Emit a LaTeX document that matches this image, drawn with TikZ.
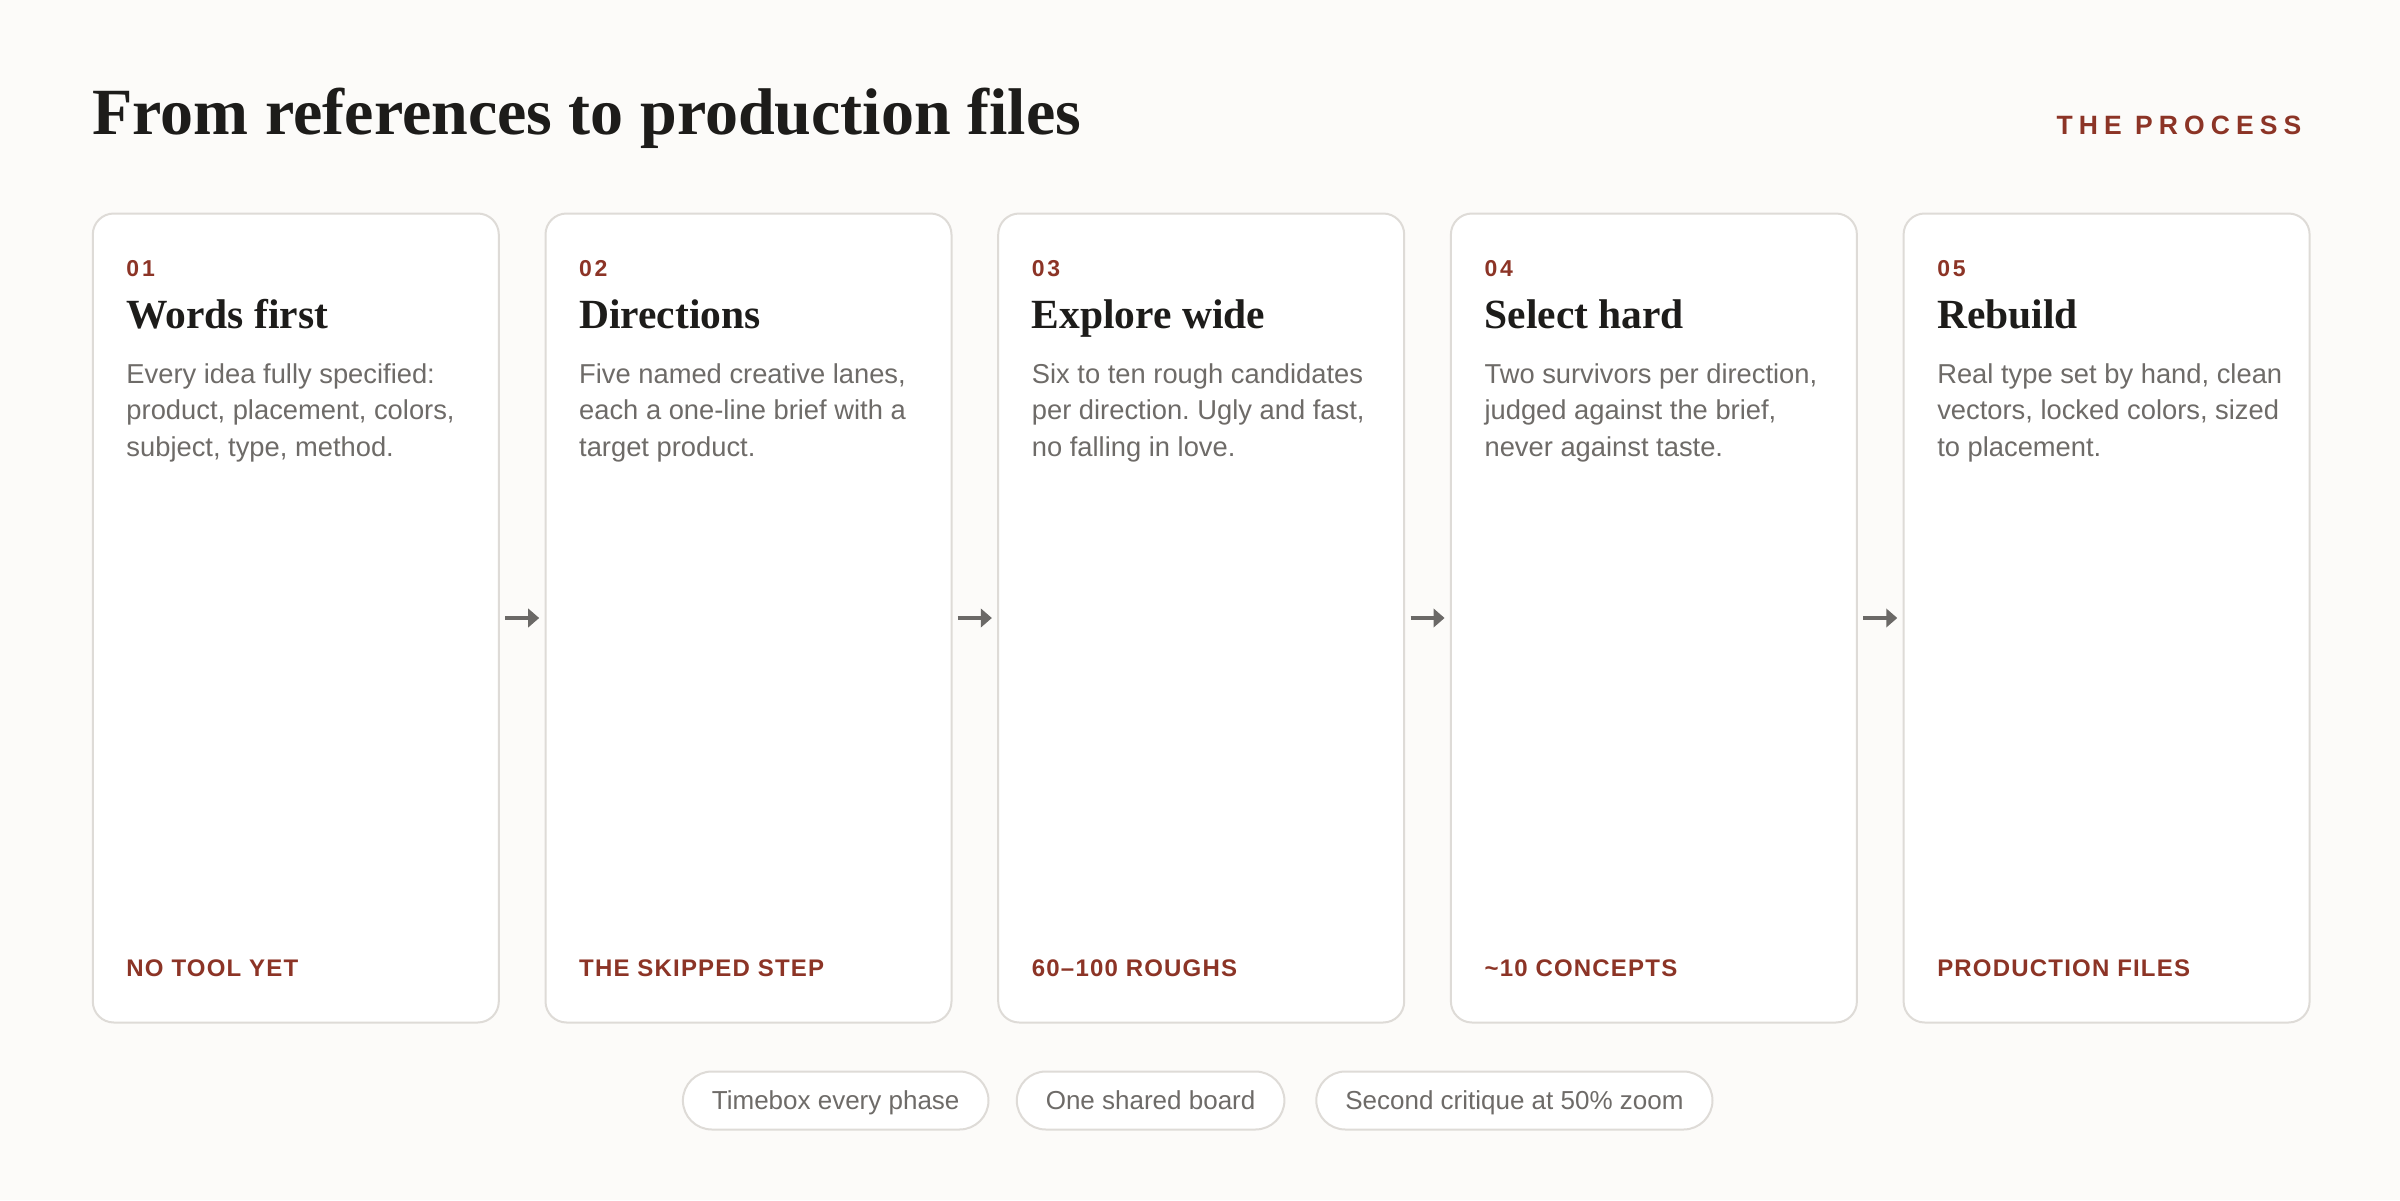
\documentclass[tikz,border=0pt]{standalone}
\usepackage{fontspec}
\setmainfont{Liberation Serif}
\setsansfont{Liberation Sans}
\newfontfamily\trackN{Liberation Sans}[LetterSpace=12]
\newfontfamily\trackH{Liberation Sans}[LetterSpace=23]
\newfontfamily\trackL{Liberation Sans}[LetterSpace=5]
\usetikzlibrary{arrows.meta,positioning}
\definecolor{bg}{HTML}{FCFBF9}
\definecolor{accent}{HTML}{8C3426}
\definecolor{ink}{HTML}{1D1C1A}
\definecolor{muted}{HTML}{6E6B68}
\definecolor{rulec}{HTML}{DEDBD7}
\definecolor{arrowc}{HTML}{6B6967}
\newcommand\stagecard[9]{%
  \node[card] (c#1) at (#2,212.5) {};
  \node[num] (n#1) at (#2+34,276.7) {#3};
  \node[ctitle] (t#1) at (#2+34,328.3) {#4};
  \node[body] (ba#1) at (#2+34,383.3) {#5};
  \node[body] (bb#1) at (#2+34,419.9) {#6};
  \node[body] (bc#1) at (#2+34,456.5) {#7};
  \node[foot] (f#1) at (#2+34,976) {#8};
}
\begin{document}
\frenchspacing
\begin{tikzpicture}[x=0.3pt,y=-0.3pt,
  card/.style={draw=rulec, line width=0.6pt, fill=white, rounded corners=6.3pt,
    minimum width=121.8pt, minimum height=242.7pt, inner sep=0pt, anchor=north west},
  txt/.style={inner sep=0pt, anchor=base west},
  num/.style={txt, text=accent, font=\trackN\bfseries\fontsize{6.9}{8}\selectfont},
  ctitle/.style={txt, text=ink, font=\bfseries\fontsize{12.45}{15}\selectfont},
  body/.style={txt, text=muted, font=\sffamily\fontsize{8.2}{10}\selectfont},
  foot/.style={txt, text=accent, font=\trackL\bfseries\fontsize{7.2}{8}\selectfont},
  arr/.style={draw=arrowc, line width=1.2pt, -{Triangle[length=3.3pt,width=5.5pt]},
    shorten <=1.6pt, shorten >=1.6pt},
  pill/.style={draw=rulec, line width=0.6pt, fill=white, rounded corners=8.7pt,
    minimum height=17.4pt, inner xsep=8.7pt, inner ysep=0pt, text height=5.6pt,
    text depth=0pt, text=muted, font=\sffamily\fontsize{7.8}{9}\selectfont}
]
\useasboundingbox (0,0) rectangle (2400,1200);
\fill[bg] (0,0) rectangle (2400,1200);

\node[txt, text=ink, font=\bfseries\fontsize{19.8}{24}\selectfont] (title) at (91.8,134.3)
  {From references to production files};
\node[inner sep=0pt, anchor=base east, text=accent, font=\trackH\bfseries\fontsize{7.95}{9}\selectfont]
  (kicker) at (2302,134) {THE PROCESS};

\stagecard{1}{91.8}{01}{Words first}{Every idea fully specified:}{product, placement, colors,}{subject, type, method.}{NO TOOL YET}{}
\stagecard{2}{544.5}{02}{Directions}{Five named creative lanes,}{each a one-line brief with a}{target product.}{THE SKIPPED STEP}{}
\stagecard{3}{997.2}{03}{Explore wide}{Six to ten rough candidates}{per direction. Ugly and fast,}{no falling in love.}{60–100 ROUGHS}{}
\stagecard{4}{1449.9}{04}{Select hard}{Two survivors per direction,}{judged against the brief,}{never against taste.}{{\char"7E}10 CONCEPTS}{}
\stagecard{5}{1902.6}{05}{Rebuild}{Real type set by hand, clean}{vectors, locked colors, sized}{to placement.}{PRODUCTION FILES}{}

\draw[arr] (c1.east) -- (c2.west);
\draw[arr] (c2.east) -- (c3.west);
\draw[arr] (c3.east) -- (c4.west);
\draw[arr] (c4.east) -- (c5.west);

\node[pill] (p1) at (835.7,1100.5) {Timebox every phase};
\node[pill] (p2) at (1150.6,1100.5) {One shared board};
\node[pill] (p3) at (1514.4,1100.5) {Second critique at 50\% zoom};
\end{tikzpicture}
\end{document}
